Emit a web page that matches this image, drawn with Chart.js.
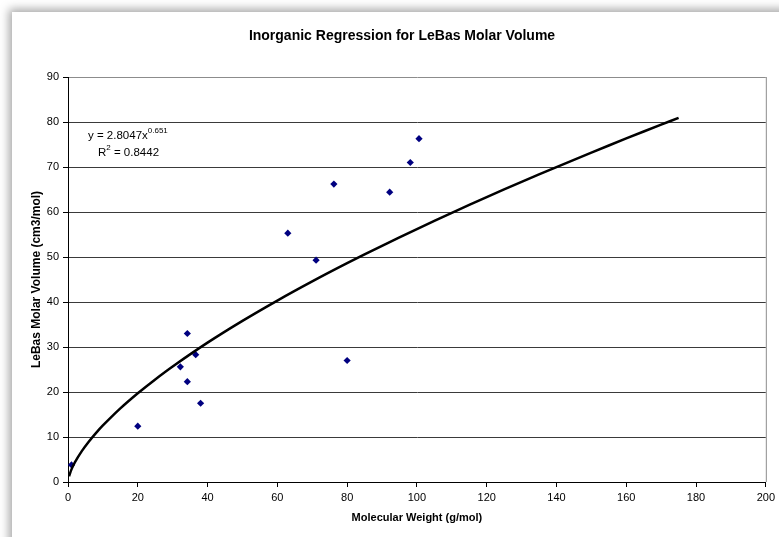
<!DOCTYPE html>
<html>
<head>
<meta charset="utf-8">
<script src="https://cdn.jsdelivr.net/npm/chart.js@4"></script>
<style>
  html, body { margin: 0; padding: 0; background: #fff; }
  #wrap { position: relative; width: 779px; height: 537px; overflow: hidden; }
  #frame {
    position: absolute; left: 12px; top: 12px; width: 800px; height: 560px;
    background: #fff; box-shadow: -3px -3px 9px rgba(0, 0, 0, 0.35);
  }
  #chart { position: absolute; left: 0; top: 0; }
</style>
</head>
<body>
<div id="wrap">
  <div id="frame"></div>
  <canvas id="chart" width="779" height="537"></canvas>
</div>
<script>
// Molecular weight (g/mol) et LeBas molar volume (cm3/mol)
const molWeight = [1, 20, 32.2, 34.2, 34.2, 36.6, 38, 63, 71.1, 76.2, 80, 92.2, 98.1, 100.6];
const molarVolume = [3.8, 12.4, 25.6, 33.0, 22.3, 28.3, 17.5, 55.3, 49.3, 66.2, 27.0, 64.4, 71.0, 76.3];

// Courbe de tendance affichée : y = 2.8047x^0.651
const trendA = 2.8047;
const trendB = 0.651;
const trendR2 = 0.8442;
const trendX = [0.3, 1, 2, 4, 6, 8, 10, 15, 20, 25, 30, 40, 50, 60, 70, 80, 90, 100, 110, 120, 130, 140, 150, 160, 170, 175];

const xTicks = [0, 20, 40, 60, 80, 100, 120, 140, 160, 180, 200];
const yTicks = [0, 10, 20, 30, 40, 50, 60, 70, 80, 90];

const FONT = "'Liberation Sans', Arial, sans-serif";

const points = molWeight.map((x, i) => ({ x: x, y: molarVolume[i] }));
const trend = trendX.map(x => ({ x: x, y: trendA * Math.pow(x, trendB) }));

// Titre, bordure du graphique et équation
const extras = {
  id: "extras",
  beforeDatasetsDraw(chart) {
    const { ctx, chartArea } = chart;
    ctx.save();
    ctx.strokeStyle = "#8c8c8c";
    ctx.lineWidth = 1;
    ctx.beginPath();
    ctx.moveTo(chartArea.right + 0.5, chartArea.top);
    ctx.lineTo(chartArea.right + 0.5, chartArea.bottom);
    ctx.stroke();
    ctx.restore();
  },
  afterDraw(chart) {
    const ctx = chart.ctx;
    ctx.save();
    ctx.fillStyle = "#000";
    ctx.textBaseline = "middle";
    ctx.textAlign = "center";
    ctx.font = "bold 14px " + FONT;
    ctx.fillText("Inorganic Regression for LeBas Molar Volume", 402, 36);

    ctx.textAlign = "left";
    ctx.textBaseline = "alphabetic";
    ctx.font = "11.5px " + FONT;
    const l1 = "y = " + trendA + "x";
    ctx.fillText(l1, 88, 139);
    const w1 = ctx.measureText(l1).width;
    ctx.font = "8px " + FONT;
    ctx.fillText(String(trendB), 88 + w1, 133);

    ctx.font = "11.5px " + FONT;
    ctx.fillText("R", 98, 156);
    const wr = ctx.measureText("R").width;
    ctx.font = "8px " + FONT;
    ctx.fillText("2", 98 + wr, 150);
    const w2 = ctx.measureText("2").width;
    ctx.font = "11.5px " + FONT;
    ctx.fillText(" = " + trendR2, 98 + wr + w2, 156);
    ctx.restore();
  }
};

new Chart(document.getElementById("chart"), {
  type: "scatter",
  data: {
    datasets: [
      {
        label: "Trend",
        data: trend,
        showLine: true,
        borderColor: "#000",
        borderWidth: 2.5,
        pointRadius: 0,
        tension: 0.3,
        fill: false
      },
      {
        label: "Inorganic",
        data: points,
        pointStyle: "rectRot",
        pointRadius: 3.6,
        backgroundColor: "#000080",
        borderColor: "#000080",
        borderWidth: 0
      }
    ]
  },
  plugins: [extras],
  options: {
    responsive: false,
    animation: false,
    layout: { padding: { top: 77, right: 13, bottom: 0, left: 0 } },
    plugins: {
      legend: { display: false },
      title: { display: false },
      tooltip: { enabled: false }
    },
    scales: {
      x: {
        type: "linear",
        min: 0,
        max: 200,
        afterFit(scale) { scale.height = 55; },
        afterBuildTicks(scale) { scale.ticks = xTicks.map(v => ({ value: v })); },
        ticks: { color: "#000", padding: 4, maxRotation: 0, font: { family: FONT, size: 11 } },
        grid: { drawOnChartArea: false, color: "#000", tickLength: 5 },
        border: { color: "#000", width: 1 },
        title: {
          display: true,
          text: "Molecular Weight (g/mol)",
          color: "#000",
          font: { family: FONT, size: 11, weight: "bold" },
          padding: { top: 0, bottom: 12 }
        }
      },
      y: {
        type: "linear",
        min: 0,
        max: 90,
        afterFit(scale) { scale.width = 68; },
        afterBuildTicks(scale) { scale.ticks = yTicks.map(v => ({ value: v })); },
        ticks: { color: "#000", padding: 4, font: { family: FONT, size: 11 } },
        grid: {
          color: ctx => (ctx.tick && ctx.tick.value === 90 ? "#8c8c8c" : "#3a3a3a"),
          tickColor: "#000",
          tickLength: 5
        },
        border: { color: "#000", width: 1 },
        title: {
          display: true,
          text: "LeBas Molar Volume (cm3/mol)",
          color: "#000",
          font: { family: FONT, size: 12, weight: "bold" },
          padding: { top: 29, bottom: 0 }
        }
      }
    }
  }
});
</script>
</body>
</html>
